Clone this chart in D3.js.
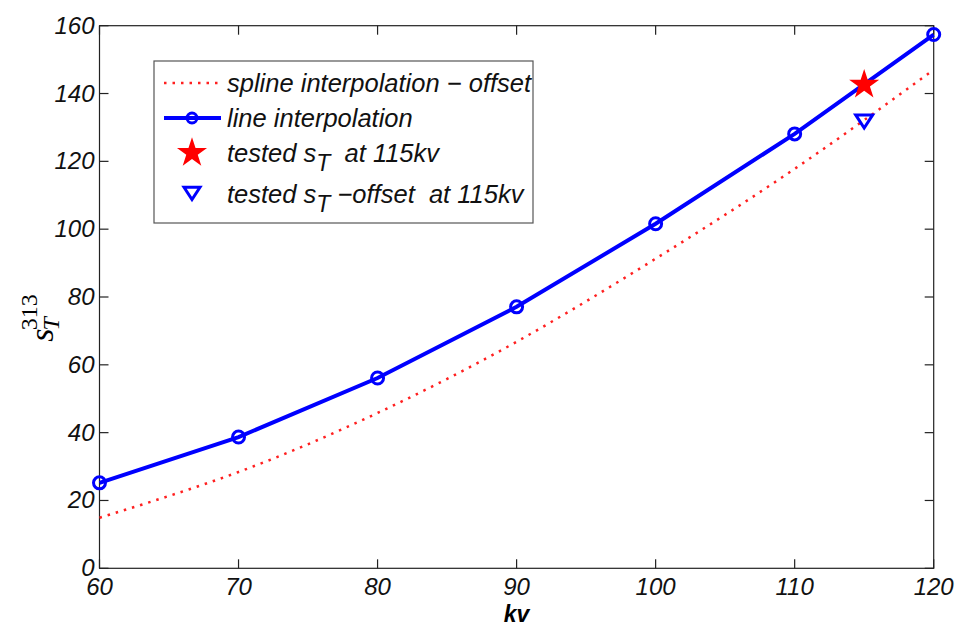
<!DOCTYPE html>
<html>
<head>
<meta charset="utf-8">
<script src="https://cdn.jsdelivr.net/npm/d3@7"></script>
<style>
  body { margin: 0; background: #fff; }
  svg text { font-family: "Liberation Sans", Arial, sans-serif; }
</style>
</head>
<body>
<div class="chart"></div>
<script>
// data
var kv = [60, 70, 80, 90, 100, 110, 120];
var lineValues = [25.2, 38.7, 56.1, 77.1, 101.6, 128.1, 157.4];
var splineValues = [14.9, 28.4, 45.8, 66.8, 91.3, 117.8, 147.0];
var testedKv = 115;
var testedST = 142.6;
var testedOffset = 132.2;
var xTicks = [60, 70, 80, 90, 100, 110, 120];
var yTicks = [0, 20, 40, 60, 80, 100, 120, 140, 160];

var width = 957, height = 623;
var margin = {left: 99.5, top: 25.7, right: 957 - 933.7, bottom: 623 - 568.3};

var svg = d3.select('.chart').append('svg')
  .attr('width', width)
  .attr('height', height);

var x = d3.scaleLinear().domain([60, 120]).range([margin.left, width - margin.right]);
var y = d3.scaleLinear().domain([0, 160]).range([height - margin.bottom, margin.top]);

var tickLen = 9;
var axisColor = '#222';

// frame
svg.append('rect')
  .attr('x', x(60)).attr('y', y(160))
  .attr('width', x(120) - x(60)).attr('height', y(0) - y(160))
  .attr('fill', 'none').attr('stroke', axisColor).attr('stroke-width', 1.2);

// ticks on all four sides, pointing inwards
xTicks.forEach(function (t) {
  svg.append('line').attr('x1', x(t)).attr('x2', x(t)).attr('y1', y(0)).attr('y2', y(0) - tickLen)
    .attr('stroke', axisColor).attr('stroke-width', 1.2);
  svg.append('line').attr('x1', x(t)).attr('x2', x(t)).attr('y1', y(160)).attr('y2', y(160) + tickLen)
    .attr('stroke', axisColor).attr('stroke-width', 1.2);
  svg.append('text')
    .attr('x', x(t)).attr('y', y(0) + 27)
    .attr('text-anchor', 'middle')
    .attr('font-size', 24).attr('font-style', 'italic').attr('fill', '#111')
    .text(t);
});
yTicks.forEach(function (t) {
  svg.append('line').attr('x1', x(60)).attr('x2', x(60) + tickLen).attr('y1', y(t)).attr('y2', y(t))
    .attr('stroke', axisColor).attr('stroke-width', 1.2);
  svg.append('line').attr('x1', x(120)).attr('x2', x(120) - tickLen).attr('y1', y(t)).attr('y2', y(t))
    .attr('stroke', axisColor).attr('stroke-width', 1.2);
  svg.append('text')
    .attr('x', x(60) - 5).attr('y', y(t) + 8)
    .attr('text-anchor', 'end')
    .attr('font-size', 24).attr('font-style', 'italic').attr('fill', '#111')
    .text(t);
});

// axis labels
svg.append('text')
  .attr('x', (x(60) + x(120)) / 2).attr('y', 622)
  .attr('text-anchor', 'middle')
  .attr('font-size', 23).attr('font-style', 'italic').attr('font-weight', 'bold')
  .text('kv');

var ylab = svg.append('text')
  .attr('transform', 'translate(53,' + 318 + ') rotate(-90)')
  .attr('text-anchor', 'middle')
  .attr('font-size', 34);
ylab.append('tspan').attr('font-style', 'italic').style('font-family', '"Liberation Serif", serif').text('s');
ylab.append('tspan').attr('font-style', 'italic').attr('font-size', 24).attr('dy', 6).attr('dx', -2).style('font-family', '"Liberation Serif", serif').text('T');
ylab.append('tspan').attr('font-size', 24).attr('dy', -22).attr('dx', -13).style('font-family', '"Liberation Serif", serif').text('313');

// spline - offset
var splineData = kv.map(function (d, i) { return [d, splineValues[i]]; });
svg.append('path')
  .datum(splineData)
  .attr('d', d3.line().x(function (d) { return x(d[0]); }).y(function (d) { return y(d[1]); }).curve(d3.curveNatural))
  .attr('fill', 'none')
  .attr('stroke', '#ff2020')
  .attr('stroke-width', 2.5)
  .attr('stroke-dasharray', '2.5,6');

// line interpolation
var lineData = kv.map(function (d, i) { return [d, lineValues[i]]; });
svg.append('path')
  .datum(lineData)
  .attr('d', d3.line().x(function (d) { return x(d[0]); }).y(function (d) { return y(d[1]); }))
  .attr('fill', 'none')
  .attr('stroke', '#0000ff')
  .attr('stroke-width', 4);

svg.selectAll('circle.pt')
  .data(lineData)
  .enter()
  .append('circle')
  .attr('class', 'pt')
  .attr('cx', function (d) { return x(d[0]); })
  .attr('cy', function (d) { return y(d[1]); })
  .attr('r', 6)
  .attr('fill', 'none')
  .attr('stroke', '#0000ff')
  .attr('stroke-width', 3);

// star marker
var star = d3.symbol().type(d3.symbolStar).size(280);
var tri = function (cx, cy, s) {
  return 'M' + (cx - s) + ',' + (cy - s * 0.6) + 'L' + (cx + s) + ',' + (cy - s * 0.6) + 'L' + cx + ',' + (cy + s * 0.95) + 'Z';
};

svg.append('path')
  .attr('d', star)
  .attr('transform', 'translate(' + x(testedKv) + ',' + y(testedST) + ')')
  .attr('fill', '#ff0000');

svg.append('path')
  .attr('d', tri(x(testedKv), y(testedOffset), 8.5))
  .attr('fill', 'none')
  .attr('stroke', '#0000ff')
  .attr('stroke-width', 3);

// legend
var legend = svg.append('g');
legend.append('rect')
  .attr('x', 154).attr('y', 61).attr('width', 379).attr('height', 162)
  .attr('fill', '#fff').attr('stroke', '#555').attr('stroke-width', 1.2);

var rowY = [83, 118, 153, 194];
var textX = 227;

legend.append('line').attr('x1', 164).attr('x2', 221).attr('y1', rowY[0]).attr('y2', rowY[0])
  .attr('stroke', '#ff2020').attr('stroke-width', 2.5).attr('stroke-dasharray', '2.5,6');
legend.append('line').attr('x1', 164).attr('x2', 221).attr('y1', rowY[1]).attr('y2', rowY[1])
  .attr('stroke', '#0000ff').attr('stroke-width', 4);
legend.append('circle').attr('cx', 192).attr('cy', rowY[1]).attr('r', 5)
  .attr('fill', 'none').attr('stroke', '#0000ff').attr('stroke-width', 3);
legend.append('path').attr('d', star).attr('transform', 'translate(192,' + rowY[2] + ')').attr('fill', '#ff0000');
legend.append('path').attr('d', tri(192, rowY[3] - 2, 8))
  .attr('fill', 'none').attr('stroke', '#0000ff').attr('stroke-width', 3);

function legendText(yy) {
  return legend.append('text')
    .attr('x', textX).attr('y', yy + 9)
    .attr('font-size', 25.5).attr('font-style', 'italic').attr('fill', '#111');
}
legendText(rowY[0]).text('spline interpolation \u2212 offset');
legendText(rowY[1]).text('line interpolation');
var t3 = legendText(rowY[2]);
t3.append('tspan').text('tested s');
t3.append('tspan').attr('dy', 9).attr('font-size', 23).text('T');
t3.append('tspan').attr('dy', -9).text('\u00a0 at 115kv');
var t4 = legendText(rowY[3]);
t4.append('tspan').text('tested s');
t4.append('tspan').attr('dy', 9).attr('font-size', 23).text('T');
t4.append('tspan').attr('dy', -9).text(' \u2212offset \u00a0at 115kv');
</script>
</body>
</html>
